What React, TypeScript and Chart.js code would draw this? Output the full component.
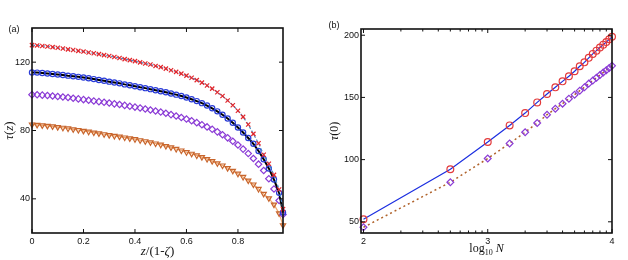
import React, { useEffect, useRef } from "react";
import { Chart, registerables } from "chart.js";

Chart.register(...registerables);

// Panel (a): profiles tau(z) against the reduced height z/(1-zeta)
const zFrac = [
  0.0, 0.02, 0.04, 0.06, 0.08, 0.1, 0.12, 0.14, 0.16, 0.18,
  0.2, 0.22, 0.24, 0.26, 0.28, 0.3, 0.32, 0.34, 0.36, 0.38,
  0.4, 0.42, 0.44, 0.46, 0.48, 0.5, 0.52, 0.54, 0.56, 0.58,
  0.6, 0.62, 0.64, 0.66, 0.68, 0.7, 0.72, 0.74, 0.76, 0.78,
  0.8, 0.82, 0.84, 0.86, 0.88, 0.9, 0.92, 0.94, 0.96, 0.975,
];
const tauCross = [
  130.0, 129.8, 129.5, 129.2, 128.8, 128.4, 128.0, 127.5, 127.1, 126.6,
  126.2, 125.7, 125.2, 124.7, 124.1, 123.6, 123.0, 122.4, 121.8, 121.2,
  120.6, 119.9, 119.2, 118.6, 117.8, 117.1, 116.2, 115.3, 114.3, 113.3,
  112.1, 110.9, 109.5, 108.0, 106.3, 104.5, 102.4, 100.2, 97.6, 94.8,
  91.6, 88.0, 83.5, 78.0, 72.5, 65.8, 60.5, 54.0, 45.5, 34.0,
];
const tauCircle = [
  114.0, 113.9, 113.7, 113.4, 113.1, 112.8, 112.5, 112.1, 111.8, 111.4,
  111.0, 110.6, 110.1, 109.6, 109.1, 108.6, 108.1, 107.6, 107.0, 106.5,
  105.9, 105.3, 104.8, 104.2, 103.6, 103.0, 102.4, 101.7, 101.0, 100.2,
  99.3, 98.3, 97.2, 96.0, 94.6, 93.0, 91.2, 89.2, 87.0, 84.5,
  81.8, 78.8, 75.6, 72.2, 68.0, 63.2, 57.8, 51.3, 43.5, 32.0,
];
const tauDiamond = [
  101.0, 100.9, 100.7, 100.5, 100.2, 99.9, 99.6, 99.3, 98.9, 98.5,
  98.1, 97.7, 97.3, 96.9, 96.5, 96.1, 95.6, 95.2, 94.7, 94.2,
  93.7, 93.2, 92.6, 92.0, 91.4, 90.8, 90.1, 89.3, 88.5, 87.6,
  86.7, 85.7, 84.6, 83.4, 82.1, 80.7, 79.2, 77.5, 75.7, 73.7,
  71.5, 69.1, 66.5, 63.6, 60.3, 56.6, 51.8, 45.8, 39.0, 30.8,
];
const tauTriangle = [
  83.5, 83.3, 83.0, 82.7, 82.4, 82.0, 81.6, 81.2, 80.7, 80.3,
  79.8, 79.3, 78.8, 78.3, 77.8, 77.3, 76.8, 76.4, 75.9, 75.4,
  74.9, 74.3, 73.7, 73.1, 72.4, 71.7, 70.9, 70.1, 69.2, 68.3,
  67.3, 66.4, 65.4, 64.4, 63.3, 62.1, 60.8, 59.5, 58.0, 56.4,
  54.7, 52.8, 50.7, 48.4, 45.8, 42.9, 40.3, 36.6, 31.5, 24.5,
];
const zTicks = [0, 0.2, 0.4, 0.6, 0.8];
const tauTicks = [40, 80, 120];

// Panel (b): tau(0) against chain length N
const chainN = [
  100, 500, 1000, 1500, 2000, 2500, 3000, 3500, 4000, 4500, 5000,
  5500, 6000, 6500, 7000, 7500, 8000, 8500, 9000, 9500, 10000,
];
const tau0Circle = [
  52.0, 92.3, 114.1, 127.5, 137.4, 146.0, 152.8, 158.1, 162.9, 167.0, 171.0,
  175.0, 178.2, 181.8, 185.0, 187.6, 190.1, 192.4, 194.6, 196.7, 198.7,
];
const tau0Diamond = [
  45.6, 81.8, 100.9, 113.0, 122.0, 129.4, 136.1, 140.9, 145.0, 149.0, 152.2,
  155.4, 158.1, 161.1, 163.5, 165.8, 168.0, 170.0, 171.9, 173.7, 175.4,
];
const logTicks = [2, 3, 4];
const logMinorN = [200, 300, 400, 500, 600, 700, 800, 900, 2000, 3000, 4000, 5000, 6000, 7000, 8000, 9000];
const tau0Ticks = [50, 100, 150, 200];

const SANS = "'Liberation Sans', Arial, sans-serif";
const SERIF = "'Liberation Serif', 'Times New Roman', serif";
const INK = "#111";

type Seg = { t: string; f: string; dy?: number };

function drawRich(ctx: CanvasRenderingContext2D, segs: Seg[], x: number, y: number, rot = 0) {
  ctx.save();
  ctx.translate(x, y);
  ctx.rotate(rot);
  ctx.textBaseline = "middle";
  ctx.textAlign = "left";
  ctx.fillStyle = INK;
  let w = 0;
  segs.forEach((s) => {
    ctx.font = s.f;
    w += ctx.measureText(s.t).width;
  });
  let cx = -w / 2;
  segs.forEach((s) => {
    ctx.font = s.f;
    ctx.fillText(s.t, cx, s.dy || 0);
    cx += ctx.measureText(s.t).width;
  });
  ctx.restore();
}

// Boxed axes with inward tick marks on all four sides
function makeFrame(minorX: number[]) {
  return {
    id: "frame",
    afterDatasetsDraw(chart: any) {
      const { ctx, chartArea: a, scales } = chart;
      const xs = scales.x;
      const ys = scales.y;
      ctx.save();
      ctx.strokeStyle = INK;
      ctx.lineWidth = 1;
      const seg = (x1: number, y1: number, x2: number, y2: number) => {
        ctx.beginPath();
        ctx.moveTo(x1, y1);
        ctx.lineTo(x2, y2);
        ctx.stroke();
      };
      const MAJ = 4;
      const MIN = 2.5;
      xs.ticks.forEach((t: any) => {
        const p = xs.getPixelForValue(t.value);
        seg(p, a.bottom, p, a.bottom - MAJ);
        seg(p, a.top, p, a.top + MAJ);
      });
      minorX.forEach((v) => {
        const p = xs.getPixelForValue(v);
        seg(p, a.bottom, p, a.bottom - MIN);
        seg(p, a.top, p, a.top + MIN);
      });
      ys.ticks.forEach((t: any) => {
        const p = ys.getPixelForValue(t.value);
        seg(a.left, p, a.left + MAJ, p);
        seg(a.right, p, a.right - MAJ, p);
      });
      ctx.lineWidth = 1.6;
      ctx.strokeRect(a.left, a.top, a.right - a.left, a.bottom - a.top);
      ctx.restore();
    },
  };
}

function makeLabels(draw: (ctx: CanvasRenderingContext2D, a: any) => void) {
  return {
    id: "labels",
    afterDraw(chart: any) {
      draw(chart.ctx, chart.chartArea);
    },
  };
}

function axes(
  xMin: number, xMax: number, xTicks: number[],
  yMin: number, yMax: number, yTicks: number[], yWidth: number,
) {
  const tickFont = { family: SANS, size: 9 };
  return {
    x: {
      type: "linear" as const,
      min: xMin,
      max: xMax,
      grid: { display: false, drawTicks: false },
      border: { display: false },
      afterBuildTicks: (s: any) => {
        s.ticks = xTicks.map((v) => ({ value: v }));
      },
      afterFit: (s: any) => {
        s.height = 27;
      },
      ticks: {
        font: tickFont,
        color: INK,
        padding: 3,
        autoSkip: false,
        maxRotation: 0,
        callback: (v: any) => String(v),
      },
    },
    y: {
      type: "linear" as const,
      min: yMin,
      max: yMax,
      grid: { display: false, drawTicks: false },
      border: { display: false },
      afterBuildTicks: (s: any) => {
        s.ticks = yTicks.map((v) => ({ value: v }));
      },
      afterFit: (s: any) => {
        s.width = yWidth;
      },
      ticks: {
        font: tickFont,
        color: INK,
        padding: 2,
        autoSkip: false,
        callback: (v: any) => String(v),
      },
    },
  };
}

const baseOptions = {
  responsive: false,
  animation: false as const,
  devicePixelRatio: 1,
  plugins: { legend: { display: false }, tooltip: { enabled: false } },
};

export default function App() {
  const leftRef = useRef<HTMLCanvasElement | null>(null);
  const rightRef = useRef<HTMLCanvasElement | null>(null);

  useEffect(() => {
    const pts = (xs: number[], ys: number[]) => xs.map((x, i) => ({ x, y: ys[i] }));

    const left = new Chart(leftRef.current!, {
      type: "scatter",
      data: {
        datasets: [
          {
            data: pts(zFrac, tauCross),
            showLine: true,
            borderColor: "#4a8cc6",
            borderDash: [3, 2],
            borderWidth: 1.2,
            pointStyle: "crossRot",
            pointRadius: 3,
            pointBorderColor: "#e3262b",
            pointBorderWidth: 1.2,
            pointBackgroundColor: "rgba(0,0,0,0)",
            clip: false,
          },
          {
            data: pts(zFrac, tauCircle),
            showLine: true,
            borderColor: "#000000",
            borderWidth: 2,
            pointStyle: "circle",
            pointRadius: 2.6,
            pointBorderColor: "#2a3cd8",
            pointBorderWidth: 1.2,
            pointBackgroundColor: "rgba(0,0,0,0)",
            clip: false,
          },
          {
            data: pts(zFrac, tauDiamond),
            showLine: false,
            pointStyle: "rectRot",
            pointRadius: 3.2,
            pointBorderColor: "#8b3bd6",
            pointBorderWidth: 1.2,
            pointBackgroundColor: "rgba(0,0,0,0)",
            clip: false,
          },
          {
            data: pts(zFrac, tauTriangle),
            showLine: true,
            borderColor: "#f2aa70",
            borderWidth: 1.2,
            pointStyle: "triangle",
            pointRotation: 180,
            pointRadius: 3,
            pointBorderColor: "#c8652c",
            pointBorderWidth: 1.2,
            pointBackgroundColor: "rgba(0,0,0,0)",
            clip: false,
          },
        ],
      },
      options: {
        ...baseOptions,
        layout: { padding: { top: 28, right: 27, left: 0, bottom: 0 } },
        scales: axes(0, 0.975, zTicks, 20, 140, tauTicks, 32),
      } as any,
      plugins: [
        makeFrame([]),
        makeLabels((ctx, a) => {
          drawRich(ctx, [{ t: "(a)", f: `9px ${SANS}` }], 14, 30);
          const it = `italic 13px ${SERIF}`;
          const up = `13px ${SERIF}`;
          drawRich(
            ctx,
            [{ t: "z", f: it }, { t: "/(1-", f: up }, { t: "ζ", f: it }, { t: ")", f: up }],
            (a.left + a.right) / 2,
            252,
          );
          drawRich(
            ctx,
            [{ t: "τ", f: it }, { t: "(", f: up }, { t: "z", f: it }, { t: ")", f: up }],
            10,
            (a.top + a.bottom) / 2,
            -Math.PI / 2,
          );
        }),
      ],
    });

    const logN = chainN.map((n) => Math.log10(n));
    const right = new Chart(rightRef.current!, {
      type: "scatter",
      data: {
        datasets: [
          {
            data: pts(logN, tau0Circle),
            showLine: true,
            borderColor: "#1b2ee0",
            borderWidth: 1.2,
            pointStyle: "circle",
            pointRadius: 3.4,
            pointBorderColor: "#e3393a",
            pointBorderWidth: 1.2,
            pointBackgroundColor: "rgba(0,0,0,0)",
            clip: false,
          },
          {
            data: pts(logN, tau0Diamond),
            showLine: true,
            borderColor: "#b0622a",
            borderDash: [2, 3],
            borderWidth: 1.5,
            pointStyle: "rectRot",
            pointRadius: 3.4,
            pointBorderColor: "#8b3bd6",
            pointBorderWidth: 1.2,
            pointBackgroundColor: "rgba(0,0,0,0)",
            clip: false,
          },
        ],
      },
      options: {
        ...baseOptions,
        layout: { padding: { top: 29, right: 16, left: 0, bottom: 0 } },
        scales: axes(1.98, 4, logTicks, 41, 205, tau0Ticks, 51),
      } as any,
      plugins: [
        makeFrame(logMinorN.map((n) => Math.log10(n))),
        makeLabels((ctx, a) => {
          drawRich(ctx, [{ t: "(b)", f: `9px ${SANS}` }], 24, 26);
          const it = `italic 12px ${SERIF}`;
          const up = `12px ${SERIF}`;
          drawRich(
            ctx,
            [
              { t: "log", f: up },
              { t: "10", f: `8px ${SERIF}`, dy: 4 },
              { t: " ", f: up },
              { t: "N", f: it },
            ],
            (a.left + a.right) / 2,
            249,
          );
          drawRich(
            ctx,
            [{ t: "τ", f: it }, { t: "(0)", f: up }],
            25,
            (a.top + a.bottom) / 2,
            -Math.PI / 2,
          );
        }),
      ],
    });

    return () => {
      left.destroy();
      right.destroy();
    };
  }, []);

  return (
    <div style={{ position: "fixed", left: 0, top: 0, width: 628, height: 260, background: "#fff" }}>
      <canvas
        ref={leftRef}
        width={310}
        height={260}
        style={{ position: "absolute", left: 0, top: 0, width: 310, height: 260 }}
      />
      <canvas
        ref={rightRef}
        width={318}
        height={260}
        style={{ position: "absolute", left: 310, top: 0, width: 318, height: 260 }}
      />
    </div>
  );
}
